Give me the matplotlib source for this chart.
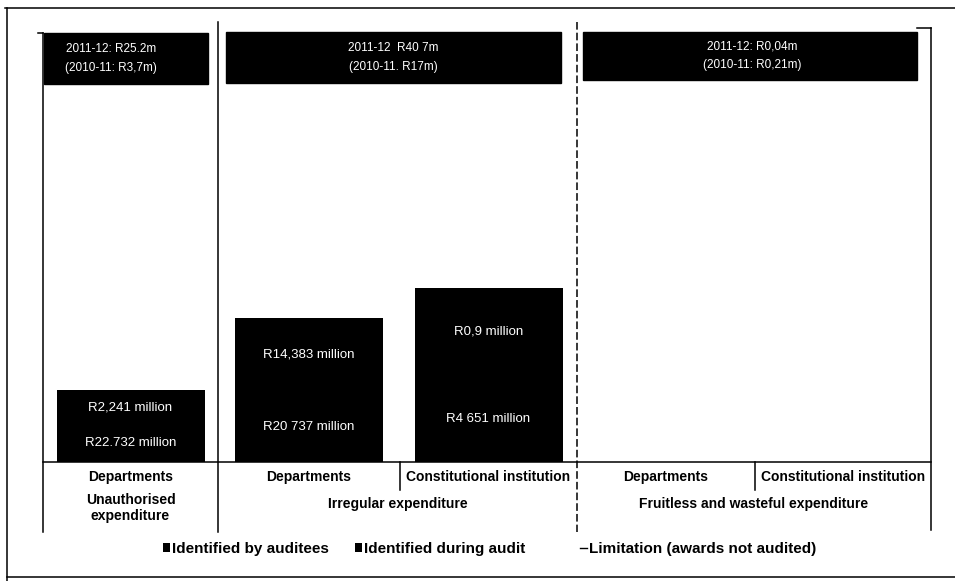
import matplotlib.pyplot as plt
from matplotlib.patches import Rectangle
from matplotlib.lines import Line2D

# Values. Bar heights are not to scale in the original,
# so segment heights are the visual heights (px above the baseline).
categories = ["Departments", "Departments", "Constitutional institution",
              "Departments", "Constitutional institution"]
groups = ["Unauthorised\nexpenditure", "Irregular expenditure",
          "Fruitless and wasteful expenditure"]
by_auditees = [37, 71, 87, 0, 0]
during_audit = [35, 73, 87, 0, 0]
by_auditees_labels = ["R22.732 million", "R20 737 million", "R4 651 million", "", ""]
during_audit_labels = ["R2,241 million", "R14,383 million", "R0,9 million", "", ""]
header_texts = ["2011-12: R25.2m\n(2010-11: R3,7m)",
                "2011-12  R40 7m\n(2010-11. R17m)",
                "2011-12: R0,04m\n(2010-11: R0,21m)"]
legend_labels = ["Identified by auditees", "Identified during audit",
                 "Limitation (awards not audited)"]

# layout (pixels)
W, H = 955, 581
col_edges = [43, 218, 400, 577, 755, 931]
group_edges = [43, 218, 577, 931]
baseline = 462
bar_width = 148

plt.rcParams['font.family'] = ['Liberation Sans', 'DejaVu Sans']

fig = plt.figure(figsize=(W / 100, H / 100), dpi=100)

# overlay axes in pixel coordinates for frame, table and header boxes
ov = fig.add_axes([0, 0, 1, 1])
ov.set_xlim(0, W)
ov.set_ylim(H, 0)
ov.axis("off")

# bars axes: bottom at the baseline
bx = fig.add_axes([col_edges[0] / W, (H - baseline) / H,
                   (col_edges[-1] - col_edges[0]) / W, (baseline - 22) / H])
bx.set_xlim(col_edges[0], col_edges[-1])
bx.set_ylim(0, baseline - 22)
bx.axis("off")

centres = [(a + b) / 2 for a, b in zip(col_edges[:-1], col_edges[1:])]
idx = [i for i, v in enumerate(by_auditees) if v + during_audit[i] > 0]
xs = [centres[i] for i in idx]
b1 = bx.bar(xs, [by_auditees[i] for i in idx], width=bar_width,
            color="black", linewidth=0, label=legend_labels[0])
b2 = bx.bar(xs, [during_audit[i] for i in idx], width=bar_width,
            bottom=[by_auditees[i] for i in idx], color="black",
            linewidth=0, label=legend_labels[1])
bx.bar_label(b1, labels=[by_auditees_labels[i] for i in idx],
             label_type="center", color="white", fontsize=9.5)
bx.bar_label(b2, labels=[during_audit_labels[i] for i in idx],
             label_type="center", color="white", fontsize=9.5)

lw = 1.1
# outer frame (scan edges)
ov.plot([5, W], [8, 8], color="black", lw=lw)
ov.plot([7, 7], [8, H], color="black", lw=lw)
ov.plot([7, W], [577, 577], color="black", lw=lw)

# group separators
ov.plot([43, 43], [33, 532], color="black", lw=lw)
ov.plot([38, 43], [33, 33], color="black", lw=lw)
ov.plot([218, 218], [22, 532], color="black", lw=lw)
ov.plot([577, 577], [22, 532], color="black", lw=lw, ls=(0, (5, 2)))
ov.plot([931, 931], [28, 530], color="black", lw=lw)
ov.plot([917, 931], [28, 28], color="black", lw=lw)
# baseline and sub-column separators
ov.plot([43, 931], [baseline, baseline], color="black", lw=lw)
for x in [400, 755]:
    ov.plot([x, x], [baseline, 490], color="black", lw=lw)

# category and group labels
for c, lab in zip(centres, categories):
    ov.text(c, 477, lab, ha="center", va="center", fontsize=10,
            fontweight="bold")
for (a, b), g in zip(zip(group_edges[:-1], group_edges[1:]), groups):
    y = 508 if "\n" in g else 504
    ov.text((a + b) / 2, y, g, ha="center", va="center", fontsize=10,
            fontweight="bold", linespacing=1.25)

# header boxes
boxes = [(44, 208, 33, 84), (226, 561, 32, 83), (583, 917, 32, 80)]
text_x = [111, 393, 752]
for (x0, x1, y0, y1), tx, t in zip(boxes, text_x, header_texts):
    ov.add_patch(Rectangle((x0, y0), x1 - x0, y1 - y0, color="black"))
    ov.text(tx, (y0 + y1) / 2, t, ha="center", va="center", color="white",
            fontsize=8.5, linespacing=1.75)

# legend, one entry per block so each sits where the scan has it
handles = [b1, b2, Line2D([], [], color="black", lw=1)]
legend_x = [163, 355, 580]
for h, lab, lx in zip(handles, legend_labels, legend_x):
    leg = fig.legend([h], [lab], loc="center left",
                     bbox_to_anchor=(lx / W, 1 - 549 / H), frameon=False,
                     borderpad=0, borderaxespad=0,
                     handlelength=0.45, handleheight=0.45, handletextpad=0.15,
                     prop={"weight": "bold", "size": 11})

fig.savefig("out.png", dpi=100)
